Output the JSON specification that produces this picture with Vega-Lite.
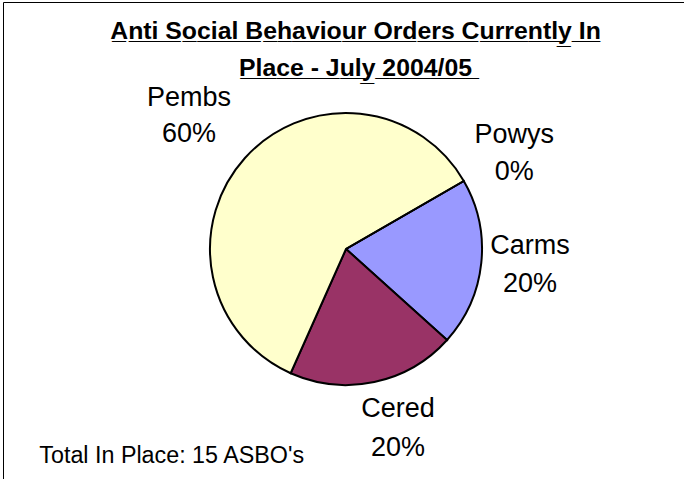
{
  "$schema": "https://vega.github.io/schema/vega-lite/v6.json",
  "autosize": {"type": "none"},
  "width": 681,
  "height": 494,
  "padding": {"left": 3, "top": 2, "right": 0, "bottom": 0},
  "background": "white",
  "view": {"stroke": "black", "strokeWidth": 1},
  "title": {
    "text": ["A\u0332n\u0332t\u0332i\u0332 \u0332S\u0332o\u0332c\u0332i\u0332a\u0332l\u0332 \u0332B\u0332e\u0332h\u0332a\u0332v\u0332i\u0332o\u0332u\u0332r\u0332 \u0332O\u0332r\u0332d\u0332e\u0332r\u0332s\u0332 \u0332C\u0332u\u0332r\u0332r\u0332e\u0332n\u0332t\u0332l\u0332y\u0332 \u0332I\u0332n\u0332", "P\u0332l\u0332a\u0332c\u0332e\u0332 \u0332-\u0332 \u0332J\u0332u\u0332l\u0332y\u0332 \u03322\u03320\u03320\u03324\u0332/\u03320\u03325\u0332"],
    "font": "Liberation Sans",
    "fontSize": 24.8,
    "fontWeight": "bold",
    "color": "black",
    "anchor": "middle",
    "frame": "group",
    "orient": "top",
    "baseline": "alphabetic",
    "dx": 12,
    "dy": 62,
    "offset": -37,
    "lineHeight": 37
  },
  "config": {
    "view": {"stroke": "black", "strokeWidth": 1}
  },
  "data": {
    "values": [
      {"region": "Carms", "count": 3, "share": 0.2},
      {"region": "Cered", "count": 3, "share": 0.2},
      {"region": "Pembs", "count": 9, "share": 0.6},
      {"region": "Powys", "count": 0, "share": 0.0}
    ]
  },
  "encoding": {
    "theta": {
      "field": "count",
      "type": "quantitative",
      "stack": true,
      "scale": {"range": [1.0472, 7.3304]}
    },
    "order": {"field": "region", "sort": "ascending"}
  },
  "layer": [
    {
      "mark": {"type": "arc", "outerRadius": 136, "stroke": "black", "strokeWidth": 2, "xOffset": 2.5},
      "encoding": {
        "color": {
          "field": "region",
          "type": "nominal",
          "scale": {
            "domain": ["Carms", "Cered", "Pembs", "Powys"],
            "range": ["#9999FF", "#993366", "#FFFFCC", "#CCFFFF"]
          },
          "legend": null
        },
        "opacity": {
          "datum": "Total In Place: 15 ASBO's",
          "type": "nominal",
          "scale": {"type": "point", "range": [1, 1]},
          "legend": {
            "title": null,
            "orient": "bottom-left",
            "offset": 29,
            "padding": 0,
            "labelFont": "Liberation Sans",
            "labelFontSize": 23.3,
            "labelColor": "black",
            "labelOffset": -16,
            "labelLimit": 400,
            "symbolSize": 0,
            "symbolStrokeWidth": 0,
            "symbolOpacity": 0
          }
        }
      }
    },
    {
      "mark": {"type": "text", "font": "Liberation Sans", "fontSize": 27, "baseline": "middle", "align": "center", "radius": 185, "dx": 2.5, "dy": -22, "color": "black"},
      "encoding": {"text": {"condition": {"test": "datum.region === 'Carms'", "field": "region", "type": "nominal"}, "value": ""}}
    },
    {
      "mark": {"type": "text", "font": "Liberation Sans", "fontSize": 27, "baseline": "middle", "align": "center", "radius": 185, "dx": 2.5, "dy": 16, "color": "black"},
      "encoding": {"text": {"condition": {"test": "datum.region === 'Carms'", "field": "share", "type": "quantitative", "format": ".0%"}, "value": ""}}
    },
    {
      "mark": {"type": "text", "font": "Liberation Sans", "fontSize": 27, "baseline": "middle", "align": "center", "radius": 183, "dx": 16.5, "dy": -19, "color": "black"},
      "encoding": {"text": {"condition": {"test": "datum.region === 'Cered'", "field": "region", "type": "nominal"}, "value": ""}}
    },
    {
      "mark": {"type": "text", "font": "Liberation Sans", "fontSize": 27, "baseline": "middle", "align": "center", "radius": 183, "dx": 16.5, "dy": 19.5, "color": "black"},
      "encoding": {"text": {"condition": {"test": "datum.region === 'Cered'", "field": "share", "type": "quantitative", "format": ".0%"}, "value": ""}}
    },
    {
      "mark": {"type": "text", "font": "Liberation Sans", "fontSize": 27, "baseline": "middle", "align": "center", "radius": 206, "dx": -1.5, "dy": -13.5, "color": "black"},
      "encoding": {"text": {"condition": {"test": "datum.region === 'Pembs'", "field": "region", "type": "nominal"}, "value": ""}}
    },
    {
      "mark": {"type": "text", "font": "Liberation Sans", "fontSize": 27, "baseline": "middle", "align": "center", "radius": 206, "dx": -1.5, "dy": 23, "color": "black"},
      "encoding": {"text": {"condition": {"test": "datum.region === 'Pembs'", "field": "share", "type": "quantitative", "format": ".0%"}, "value": ""}}
    },
    {
      "mark": {"type": "text", "font": "Liberation Sans", "fontSize": 27, "baseline": "middle", "align": "center", "radius": 192, "dx": 4.5, "dy": -18, "color": "black"},
      "encoding": {"text": {"condition": {"test": "datum.region === 'Powys'", "field": "region", "type": "nominal"}, "value": ""}}
    },
    {
      "mark": {"type": "text", "font": "Liberation Sans", "fontSize": 27, "baseline": "middle", "align": "center", "radius": 192, "dx": 4.5, "dy": 18.5, "color": "black"},
      "encoding": {"text": {"condition": {"test": "datum.region === 'Powys'", "field": "share", "type": "quantitative", "format": ".0%"}, "value": ""}}
    }
  ]
}
